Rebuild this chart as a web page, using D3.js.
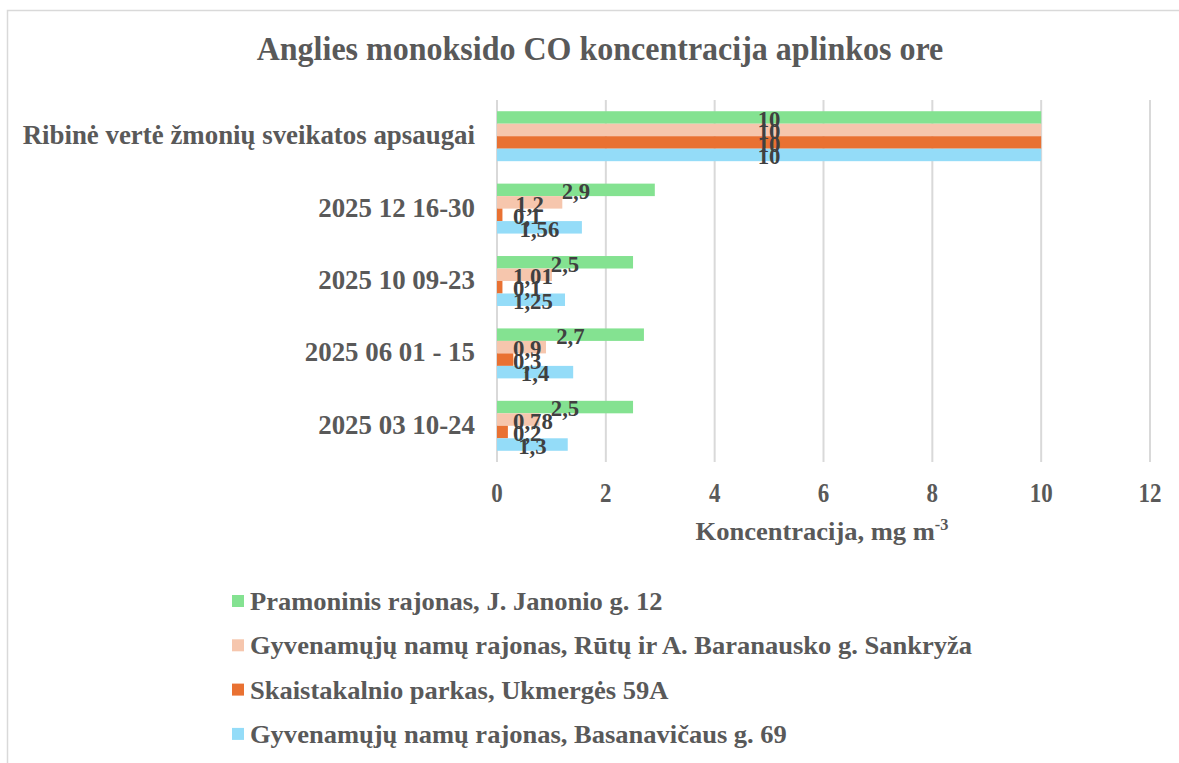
<!DOCTYPE html>
<html>
<head>
<meta charset="utf-8">
<script src="https://cdn.jsdelivr.net/npm/d3@7"></script>
<style>
  body { margin: 0; background: #fff; }
  text { font-family: "Liberation Serif", "Times New Roman", serif; font-weight: bold; }
</style>
</head>
<body>
<div id="chart"></div>
<script>
var categories = ["Ribinė vertė žmonių sveikatos apsaugai", "2025 12 16-30", "2025 10 09-23", "2025 06 01 - 15", "2025 03 10-24"];
var seriesNames = [
    "Pramoninis rajonas, J. Janonio g. 12",
    "Gyvenamųjų namų rajonas, Rūtų ir A. Baranausko g. Sankryža",
    "Skaistakalnio parkas, Ukmergės 59A",
    "Gyvenamųjų namų rajonas, Basanavičaus g. 69"
];
var pramoninis = [10, 2.9, 2.5, 2.7, 2.5];
var rutu = [10, 1.2, 1.01, 0.9, 0.78];
var skaistakalnio = [10, 0.1, 0.1, 0.3, 0.2];
var basanaviciaus = [10, 1.56, 1.25, 1.4, 1.3];
var xTicks = [0, 2, 4, 6, 8, 10, 12];
var colors = ["#84e291", "#f6c6ad", "#e97132", "#94dcf8"];

var W = 1179, H = 763,
    m = {t: 100, r: 29, b: 301, l: 497},
    chartW = W - m.l - m.r,
    chartH = H - m.t - m.b;

var values = [pramoninis, rutu, skaistakalnio, basanaviciaus];

var svg = d3.select("#chart").append("svg")
    .attr("width", W).attr("height", H);

// chart border (only top + left are inside the picture)
svg.append("path")
    .attr("d", "M7.5," + H + "V10.5H" + W)
    .attr("fill", "none").attr("stroke", "#d9d9d9").attr("stroke-width", 1.5);

// text helper, sx = horizontal squeeze
function sText(g, x, y, str, size, sx, anchor, color){
    return g.append("text")
        .attr("transform", "translate(" + x + "," + y + ") scale(" + sx + ",1)")
        .attr("text-anchor", anchor)
        .style("font-size", size + "px")
        .attr("fill", color)
        .text(str);
}

sText(svg, 600, 60, "Anglies monoksido CO koncentracija aplinkos ore", 33, 0.97, "middle", "#595959");

var x = d3.scaleLinear().domain([0, 12]).range([0, chartW]);

var y0 = d3.scaleBand().domain(categories).range([0, chartH]).paddingInner(0.31).paddingOuter(0.155);
var y1 = d3.scaleBand().domain(d3.range(4)).range([0, y0.bandwidth()]);

var g = svg.append("g").attr("transform", "translate(" + m.l + "," + m.t + ")");

// gridlines
g.selectAll(".grid").data(xTicks).enter().append("line")
    .attr("x1", function(d){ return x(d); })
    .attr("x2", function(d){ return x(d); })
    .attr("y1", 0).attr("y2", chartH)
    .attr("stroke", "#d9d9d9").attr("stroke-width", 2);

// tick labels
xTicks.forEach(function(d){
    sText(g, x(d), chartH + 40, d, 28, 0.82, "middle", "#595959");
});

// axis title
var at = sText(g, 325, chartH + 78, "Koncentracija, mg m", 26, 1.02, "middle", "#595959");
at.append("tspan").attr("dy", -10).style("font-size", "16px").text("-3");

// category labels
categories.forEach(function(c){
    sText(g, -22, y0(c) + y0.bandwidth() / 2 + 8, c, 28, 0.96, "end", "#595959");
});

// bars
var groups = g.selectAll(".cat").data(categories).enter().append("g")
    .attr("transform", function(c){ return "translate(0," + y0(c) + ")"; });

groups.each(function(c, ci){
    var gg = d3.select(this);
    values.forEach(function(vals, si){
        gg.append("rect")
            .attr("x", 0)
            .attr("y", y1(si))
            .attr("width", x(vals[ci]))
            .attr("height", y1.bandwidth())
            .attr("fill", colors[si]);
    });
});

// data labels: centred on the bar, but never closer than 16px to the axis
groups.each(function(c, ci){
    var gg = d3.select(this);
    values.forEach(function(vals, si){
        var v = vals[ci];
        var t = sText(gg, 0, y1(si) + y1.bandwidth() + 3, String(v).replace(".", ","), 24, 0.95, "middle", "#404040");
        var w = t.node().getComputedTextLength() * 0.95;
        var lx = Math.max(x(v) / 2, w / 2 + 16);
        t.attr("transform", "translate(" + lx + "," + (y1(si) + y1.bandwidth() + 3) + ") scale(0.95,1)");
    });
});

// legend
var legend = svg.append("g").attr("transform", "translate(232,601)");
seriesNames.forEach(function(n, i){
    var row = legend.append("g").attr("transform", "translate(0," + (i * 44.3) + ")");
    row.append("rect").attr("x", 0).attr("y", -6).attr("width", 12).attr("height", 12).attr("fill", colors[i]);
    sText(row, 18, 9, n, 26, 1.02, "start", "#595959");
});
</script>
</body>
</html>
